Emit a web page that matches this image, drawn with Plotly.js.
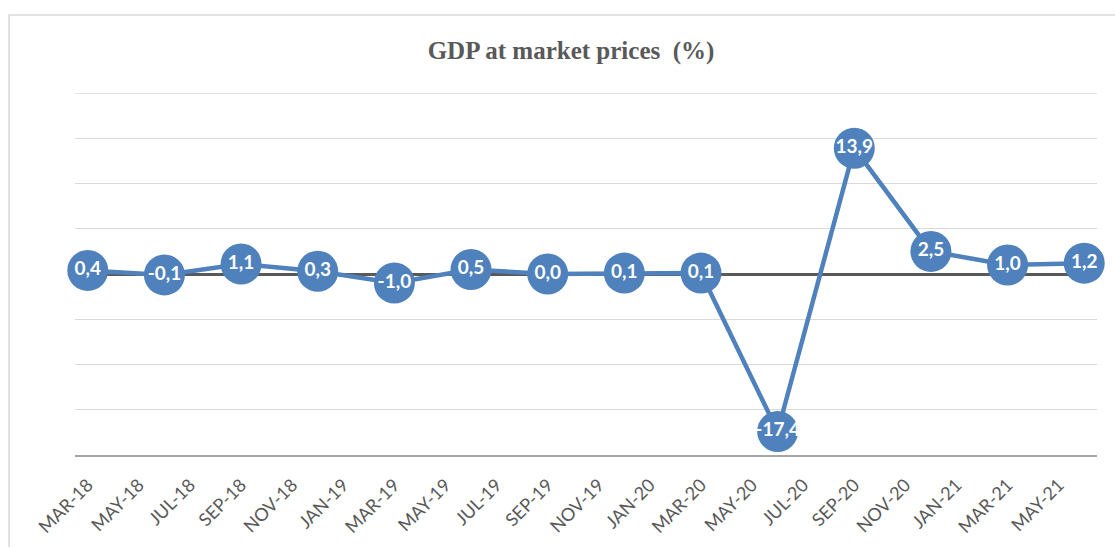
<!DOCTYPE html>
<html>
<head>
<meta charset="utf-8">
<script src="https://cdn.plot.ly/plotly-3.0.1.min.js"></script>
<style>html,body{margin:0;padding:0;background:#fff;}#chart{width:1115px;height:547px;}</style>
</head>
<body>
<div id="chart"></div>
<script>
// Quarterly periods (shown at the month where each value is plotted)
const periods = ['MAR-18','JUN-18','SEP-18','DEC-18','MAR-19','JUN-19','SEP-19','DEC-19',
                 'MAR-20','JUN-20','SEP-20','DEC-20','MAR-21','JUN-21'];
// GDP at market prices, % change
const gdpValues = [0.4, -0.1, 1.1, 0.3, -1.0, 0.5, 0.0, 0.1, 0.1, -17.4, 13.9, 2.5, 1.0, 1.2];
// Axis tick labels (every two months)
const tickLabels = ['MAR-18','MAY-18','JUL-18','SEP-18','NOV-18','JAN-19','MAR-19','MAY-19',
                    'JUL-19','SEP-19','NOV-19','JAN-20','MAR-20','MAY-20','JUL-20','SEP-20',
                    'NOV-20','JAN-21','MAR-21','MAY-21'];
const titleText = 'GDP at market prices\u00a0\u00a0(%)';

// Monthly category axis from MAR-18 to JUN-21
const monthNames = ['JAN','FEB','MAR','APR','MAY','JUN','JUL','AUG','SEP','OCT','NOV','DEC'];
const allMonths = [];
for (let y = 18; y <= 21; y++) {
  for (let m = 0; m < 12; m++) {
    if (y === 18 && m < 2) continue;
    if (y === 21 && m > 5) continue;
    allMonths.push(monthNames[m] + '-' + y);
  }
}
const labels = gdpValues.map(v => v.toFixed(1).replace('.', ','));

const trace = {
  type: 'scatter',
  mode: 'lines+markers+text',
  x: periods,
  y: gdpValues,
  text: labels,
  textposition: 'middle center',
  textfont: {family: 'Lato, "Open Sans", sans-serif', size: 19, color: '#ffffff', weight: 'bold'},
  line: {color: '#4F81BD', width: 4.5},
  marker: {color: '#4F81BD', size: 41, line: {width: 0}},
  cliponaxis: false,
  hoverinfo: 'skip'
};

const W = 1115, H = 547, L = 75, R = 18, T = 93, B = 92;
const pw = W - L - R, ph = H - T - B;
const px = v => (v - L) / pw;
const py = v => (H - B - v) / ph;

const layout = {
  width: W, height: H,
  margin: {l: L, r: R, t: T, b: B, pad: 0},
  paper_bgcolor: '#ffffff',
  plot_bgcolor: '#ffffff',
  showlegend: false,
  title: {
    text: titleText,
    font: {family: '"Liberation Serif", "Times New Roman", serif', size: 25, color: '#595959', weight: 'bold'},
    x: 571 / W, xref: 'container', xanchor: 'center',
    y: 1 - 50 / H, yref: 'container', yanchor: 'middle'
  },
  xaxis: {
    type: 'category',
    categoryorder: 'array',
    categoryarray: allMonths,
    range: [-0.5, allMonths.length - 0.5],
    tickmode: 'array',
    tickvals: tickLabels,
    ticktext: tickLabels,
    tickangle: -45,
    tickfont: {family: 'Lato, "Open Sans", sans-serif', size: 18, color: '#595959'},
    ticklabelstandoff: 11,
    showgrid: false,
    zeroline: false,
    showline: true,
    linecolor: '#a6a6a6',
    linewidth: 1.5,
    ticks: '',
    fixedrange: true
  },
  yaxis: {
    range: [-20, 20],
    dtick: 5,
    showticklabels: false,
    showgrid: true,
    gridcolor: '#d9d9d9',
    gridwidth: 1.3,
    zeroline: true,
    zerolinecolor: '#595959',
    zerolinewidth: 3,
    showline: false,
    ticks: '',
    fixedrange: true
  },
  shapes: [{
    type: 'rect', xref: 'paper', yref: 'paper', layer: 'below',
    x0: px(9), x1: px(1130), y0: py(15), y1: py(560),
    line: {color: '#d9d9d9', width: 1.5}, fillcolor: 'rgba(0,0,0,0)'
  }, {
    type: 'line', xref: 'paper', yref: 'y', layer: 'below',
    x0: 0, x1: 1, y0: 20, y1: 20,
    line: {color: '#d9d9d9', width: 1.3}
  }]
};

Plotly.newPlot('chart', [trace], layout, {displayModeBar: false, staticPlot: true});
</script>
</body>
</html>
